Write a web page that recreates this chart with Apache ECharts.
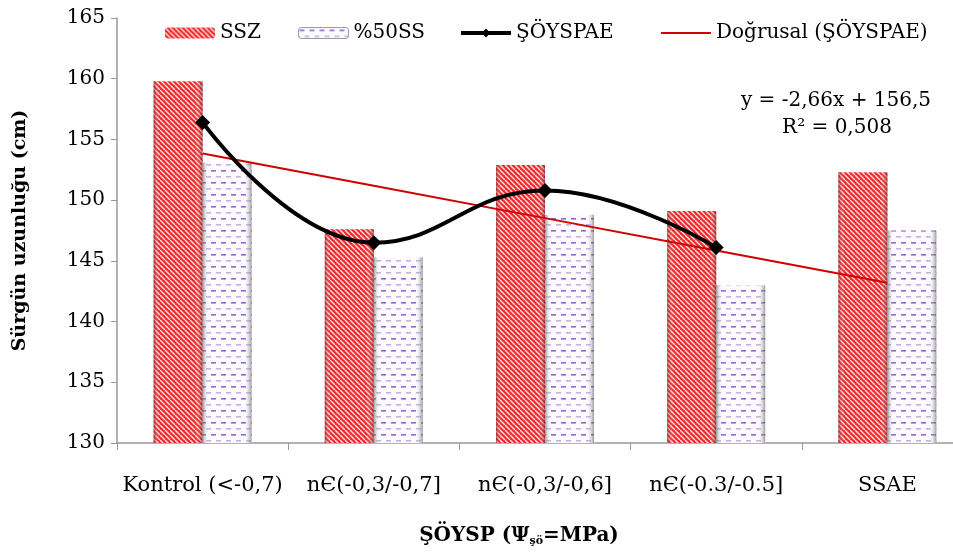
<!DOCTYPE html>
<html>
<head>
<meta charset="utf-8">
<script src="https://cdn.jsdelivr.net/npm/echarts@6/dist/echarts.min.js"></script>
<style>html,body{margin:0;padding:0;background:#fff}#c{width:953px;height:553px}</style>
</head>
<body>
<div id="c"></div>
<script>
var categories = ['Kontrol (<-0,7)', 'n\u0404(-0,3/-0,7]', 'n\u0404(-0,3/-0,6]', 'n\u0404(-0.3/-0.5]', 'SSAE'];
var ssz = [159.8, 147.6, 152.9, 149.1, 152.3];
var ss50 = [153.1, 145.3, 148.8, 143.0, 147.5];
var soyspae = [156.4, 146.5, 150.8, 146.1, null];
var trendSlope = -2.66;
var trendIntercept = 156.5;
var yTicks = [130, 135, 140, 145, 150, 155, 160, 165];
var legendNames = ['SSZ', '%50SS', '\u015e\u00d6YSPAE', 'Do\u011frusal (\u015e\u00d6YSPAE)'];

var trend = categories.map(function (c, i) { return +(trendSlope * (i + 1) + trendIntercept).toFixed(3); });

function stripePattern() {
  var cv = document.createElement('canvas');
  cv.width = 5; cv.height = 5;
  var g = cv.getContext('2d');
  g.fillStyle = '#f0282b';
  g.fillRect(0, 0, 5, 5);
  g.strokeStyle = '#ffe0e0';
  g.lineWidth = 1.4;
  for (var k = -5; k <= 10; k += 5) {
    g.beginPath();
    g.moveTo(k, 0);
    g.lineTo(k + 5, 5);
    g.stroke();
  }
  return cv;
}
function dashPattern() {
  var cv = document.createElement('canvas');
  cv.width = 10; cv.height = 12;
  var g = cv.getContext('2d');
  g.fillStyle = '#fdfbff';
  g.fillRect(0, 0, 10, 12);
  g.fillStyle = '#9066cc';
  g.fillRect(1, 2, 5, 1.6);
  g.fillStyle = '#c6aee6';
  g.fillRect(6, 8, 4, 1.6);
  g.fillRect(0, 8, 1, 1.6);
  return cv;
}
function edgeShade(c1) {
  return { type: 'linear', x: 0, y: 0, x2: 1, y2: 0, colorStops: [
    { offset: 0, color: c1 }, { offset: 0.12, color: 'rgba(255,255,255,0)' },
    { offset: 0.85, color: 'rgba(255,255,255,0)' }, { offset: 1, color: c1 } ] };
}

var chart = echarts.init(document.getElementById('c'), null, { renderer: 'canvas' });
var font = 'DejaVu Serif';
var legendLefts = [165, 298, 459, 660];
var legendExtra = [
  {},
  { itemStyle: { borderColor: '#999', borderWidth: 1 } },
  { lineStyle: { width: 4 } },
  { itemStyle: { opacity: 0 }, lineStyle: { width: 2 } }
];
var legends = legendNames.map(function (n, i) {
  var d = Object.assign({ name: n }, legendExtra[i]);
  return {
    top: 23, left: legendLefts[i], itemWidth: 50, itemHeight: 11, padding: 0,
    textStyle: { fontFamily: font, fontSize: 20, color: '#000' },
    data: [d]
  };
});

chart.setOption({
  animation: false,
  textStyle: { fontFamily: font },
  grid: [{ left: 117, top: 18, width: 856, height: 425, containLabel: false, outerBoundsMode: 'none' }],
  legend: legends,
  xAxis: [{
    type: 'category',
    data: categories,
    axisLine: { lineStyle: { color: '#999', width: 1.5 } },
    axisTick: { show: true, length: 7, lineStyle: { color: '#999' } },
    axisLabel: { color: '#000', fontSize: 21, fontFamily: font, margin: 32, interval: 0 }
  }, {
    type: 'category', data: categories, show: false, position: 'bottom'
  }],
  yAxis: {
    type: 'value', min: 130, max: 165, interval: 5,
    name: 'S\u00fcrg\u00fcn uzunlu\u011fu (cm)',
    nameLocation: 'middle', nameGap: 87,
    nameTextStyle: { fontFamily: font, fontSize: 19, fontWeight: 'bold', color: '#000' },
    axisLine: { show: true, lineStyle: { color: '#999', width: 1.5 } },
    axisTick: { show: true, length: 6, lineStyle: { color: '#999' } },
    splitLine: { show: false },
    axisLabel: { color: '#000', fontSize: 20, fontFamily: font, margin: 12,
      formatter: function (v) { return yTicks.indexOf(v) >= 0 ? String(v) : ''; } }
  },
  graphic: [
    { type: 'text', x: 836, y: 101, style: { text: 'y = -2,66x + 156,5', font: '20px "DejaVu Serif"', fill: '#000', align: 'center', verticalAlign: 'middle' } },
    { type: 'text', x: 837, y: 128, style: { text: 'R\u00b2 = 0,508', font: '20px "DejaVu Serif"', fill: '#000', align: 'center', verticalAlign: 'middle' } },
    { type: 'text', x: 519, y: 536, style: {
      text: '{b|\u015e\u00d6YSP (\u03a8}{s|\u015f\u00f6}{b|=MPa)}',
      align: 'center', verticalAlign: 'middle',
      rich: {
        b: { fontFamily: font, fontSize: 20, fontWeight: 'bold', color: '#000' },
        s: { fontFamily: font, fontSize: 11, fontWeight: 'bold', color: '#000', padding: [10, 0, 0, 0] }
      } } }
  ],
  series: [
    {
      name: 'SSZ', type: 'bar', data: ssz, barWidth: 49, barGap: '0%',
      itemStyle: { color: { image: stripePattern(), repeat: 'repeat' } }
    },
    {
      name: '%50SS', type: 'bar', data: ss50, barWidth: 49,
      itemStyle: { color: { image: dashPattern(), repeat: 'repeat' } }
    },
    {
      type: 'bar', xAxisIndex: 1, data: ssz, barWidth: 49, barGap: '0%', silent: true, z: 3,
      itemStyle: { color: edgeShade('rgba(110,20,20,0.55)') }
    },
    {
      type: 'bar', xAxisIndex: 1, data: ss50, barWidth: 49, silent: true, z: 3,
      itemStyle: { color: edgeShade('rgba(90,90,90,0.6)') }
    },
    {
      name: legendNames[2], type: 'line', data: soyspae, smooth: 0.45,
      symbol: 'diamond', symbolSize: 15, z: 6,
      lineStyle: { color: '#000', width: 4 },
      itemStyle: { color: '#000' }
    },
    {
      name: legendNames[3], type: 'line', data: trend, symbol: 'none', z: 5,
      lineStyle: { color: '#d00000', width: 2 },
      itemStyle: { color: '#d00000' }
    }
  ]
});
</script>
</body>
</html>
